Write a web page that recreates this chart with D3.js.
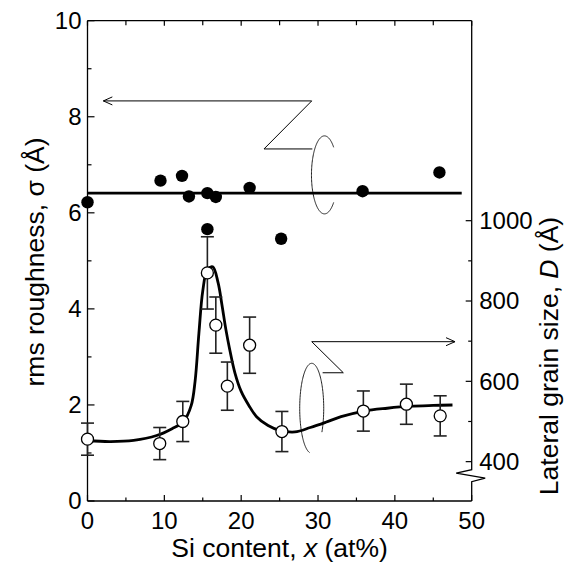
<!DOCTYPE html>
<html>
<head>
<meta charset="utf-8">
<script src="https://cdn.jsdelivr.net/npm/d3@7"></script>
<style>
  body { margin: 0; background: #fff; }
  text { font-family: "Liberation Sans", Arial, sans-serif; fill: #000; }
</style>
</head>
<body>
<svg id="chart" width="569" height="571"></svg>
<script>
// rms roughness (filled dots, left axis)
var siRough = [0, 9.5, 12.3, 13.2, 15.6, 16.7, 21.1, 15.6, 25.2, 35.8, 45.8];
var sigma   = [6.22, 6.67, 6.77, 6.34, 6.41, 6.33, 6.52, 5.66, 5.46, 6.45, 6.84];
var sigmaMean = 6.41;   // horizontal line
var sigmaLineEnd = 48.7;

// lateral grain size (open circles, right axis)
var siGrain  = [0, 9.4, 12.4, 15.6, 16.7, 18.2, 21.1, 25.3, 35.9, 41.5, 45.9];
var grain    = [456, 445, 500, 870, 740, 588, 690, 475, 526, 543, 514];
var grainErr = [40, 40, 50, 90, 70, 60, 70, 50, 50, 50, 50];

// guide-to-the-eye curve through grain size
var fitSi = [0, 3, 6, 9, 11, 12.5, 13.5, 14, 14.5, 15, 15.6, 16.3, 17, 17.5, 18, 18.5, 19.2, 20, 21, 22, 23.5, 25, 27, 29, 31, 33, 36, 39, 42, 45, 47.5];
var fitD  = [452, 450, 453, 465, 482, 500, 540, 600, 720, 825, 878, 885, 845, 790, 730, 680, 620, 575, 540, 512, 490, 478, 474, 485, 498, 512, 526, 533, 538, 540, 541];

var xTicks = [0, 10, 20, 30, 40, 50];
var yTicks = [0, 2, 4, 6, 8, 10];
var dTicks = [400, 600, 800, 1000];

var margin = {left: 87.5, top: 20.7, right: 97.3, bottom: 70};
var width = 569 - margin.left - margin.right;
var height = 571 - margin.top - margin.bottom;

var svg = d3.select("#chart");
var g = svg.append("g").attr("transform", "translate(" + margin.left + "," + margin.top + ")");

var x = d3.scaleLinear().domain([0, 50]).range([0, width]);
var y = d3.scaleLinear().domain([0, 10]).range([height, 0]);
// right axis: 400 sits at sigma 0.818, 1000 at sigma 5.836
var yD = d3.scaleLinear().domain([302, 1498]).range([height, 0]);

// frame
g.append("line").attr("x1", 0).attr("x2", width).attr("y1", 0).attr("y2", 0);
g.append("line").attr("x1", 0).attr("x2", width).attr("y1", height).attr("y2", height);
g.append("line").attr("x1", 0).attr("x2", 0).attr("y1", 0).attr("y2", height);
g.selectAll("line").attr("stroke", "#000").attr("stroke-width", 1.3);

// right axis with break
var brk = yD(400) + 8;
g.append("path")
  .attr("d", d3.line()([[width, 0], [width, brk], [width - 15.5, brk + 3.5], [width + 13.5, brk + 8.5], [width, brk + 12], [width, height]]))
  .attr("fill", "none").attr("stroke", "#000").attr("stroke-width", 1.3);

// ticks
var minorX = d3.range(5, 50, 10);
var minorY = d3.range(1, 10, 2);
var minorD = [500, 700, 900];
function tick(x1, y1, x2, y2) {
  g.append("line").attr("x1", x1).attr("y1", y1).attr("x2", x2).attr("y2", y2)
    .attr("stroke", "#000").attr("stroke-width", 1.2);
}
xTicks.forEach(function(t) { tick(x(t), height, x(t), height - 6); tick(x(t), 0, x(t), 5); });
minorX.forEach(function(t) { tick(x(t), height, x(t), height - 3.5); tick(x(t), 0, x(t), 4.5); });
yTicks.forEach(function(t) { tick(0, y(t), 7, y(t)); });
minorY.forEach(function(t) { tick(0, y(t), 4, y(t)); });
dTicks.forEach(function(t) { tick(width, yD(t), width - 6, yD(t)); });
minorD.forEach(function(t) { tick(width, yD(t), width - 3.5, yD(t)); });

// tick labels
g.selectAll(".xl").data(xTicks).enter().append("text")
  .attr("x", d => x(d)).attr("y", height + 28)
  .attr("text-anchor", "middle").style("font-size", "24px").text(d => d);
g.selectAll(".yl").data(yTicks).enter().append("text")
  .attr("x", -6).attr("y", d => y(d) + 8.5)
  .attr("text-anchor", "end").style("font-size", "24px").text(d => d);
g.selectAll(".dl").data(dTicks).enter().append("text")
  .attr("x", width + 7.5).attr("y", d => yD(d) + 8.5)
  .attr("text-anchor", "start").style("font-size", "24px").text(d => d);

// axis titles
var xt = svg.append("text").attr("x", 279.6).attr("y", 557)
  .attr("text-anchor", "middle").style("font-size", "26.5px");
xt.append("tspan").text("Si content, ");
xt.append("tspan").style("font-style", "italic").text("x");
xt.append("tspan").text(" (at%)");

svg.append("text").attr("transform", "translate(44,262) rotate(-90)")
  .attr("text-anchor", "middle").style("font-size", "26.5px")
  .text("rms roughness, σ (Å)");

var rt = svg.append("text").attr("transform", "translate(558,356) rotate(-90)")
  .attr("text-anchor", "middle").style("font-size", "26.5px");
rt.append("tspan").text("Lateral grain size, ");
rt.append("tspan").style("font-style", "italic").text("D");
rt.append("tspan").text(" (Å)");

// annotations: Z arrows and loops
function thin(path) {
  return g.append("path").attr("d", path).attr("fill", "none")
    .attr("stroke", "#000").attr("stroke-width", 1);
}
var line = d3.line();
thin(line([[x(2.06), y(8.33)], [x(29.18), y(8.33)], [x(22.97), y(7.33)], [x(29.26), y(7.33)]]));
thin(line([[x(2.06) + 9, y(8.33) - 4], [x(2.06), y(8.33)], [x(2.06) + 9, y(8.33) + 4]]));
thin(line([[x(47.83), y(3.317)], [x(29.18), y(3.317)], [x(33.29), y(2.67)], [x(30.6), y(2.67)]]));
thin(line([[x(47.83) - 9, y(3.317) - 4], [x(47.83), y(3.317)], [x(47.83) - 9, y(3.317) + 4]]));

function loop(cx, cy, rx, ry, a0, a1) {
  var pts = d3.range(a0, a1 + 0.5, 2).map(function(a) {
    var r = a * Math.PI / 180;
    return [cx + rx * Math.cos(r), cy + ry * Math.sin(r)];
  });
  thin(d3.line()(pts)).attr("stroke", "#222");
}
loop(x(30.84), y(6.79), 13, 39, 45, 315);
loop(x(29.18), y(1.93), 12, 45, 100, 392);

// sigma mean line
g.append("line").attr("x1", x(0)).attr("x2", x(sigmaLineEnd))
  .attr("y1", y(sigmaMean)).attr("y2", y(sigmaMean))
  .attr("stroke", "#000").attr("stroke-width", 2.8);

// fit curve
g.append("path")
  .datum(fitSi.map((s, i) => [s, fitD[i]]))
  .attr("d", d3.line().x(d => x(d[0])).y(d => yD(d[1])).curve(d3.curveCatmullRom.alpha(0.5)))
  .attr("fill", "none").attr("stroke", "#000").attr("stroke-width", 2.8);

// error bars
var grainData = siGrain.map((s, i) => ({si: s, d: grain[i], e: grainErr[i]}));
var eb = g.selectAll(".eb").data(grainData).enter().append("g");
eb.append("line").attr("x1", d => x(d.si)).attr("x2", d => x(d.si))
  .attr("y1", d => yD(d.d - d.e)).attr("y2", d => yD(d.d + d.e));
eb.append("line").attr("x1", d => x(d.si) - 6.5).attr("x2", d => x(d.si) + 6.5)
  .attr("y1", d => yD(d.d + d.e)).attr("y2", d => yD(d.d + d.e));
eb.append("line").attr("x1", d => x(d.si) - 6.5).attr("x2", d => x(d.si) + 6.5)
  .attr("y1", d => yD(d.d - d.e)).attr("y2", d => yD(d.d - d.e));
eb.selectAll("line").attr("stroke", "#222").attr("stroke-width", 1.6);

// open circles
g.selectAll(".oc").data(grainData).enter().append("circle")
  .attr("cx", d => x(d.si)).attr("cy", d => yD(d.d)).attr("r", 6)
  .attr("fill", "#fff").attr("stroke", "#000").attr("stroke-width", 1.3);

// filled dots
g.selectAll(".fd").data(siRough).enter().append("circle")
  .attr("cx", d => x(d)).attr("cy", (d, i) => y(sigma[i])).attr("r", 6.2)
  .attr("fill", "#000");
</script>
</body>
</html>
